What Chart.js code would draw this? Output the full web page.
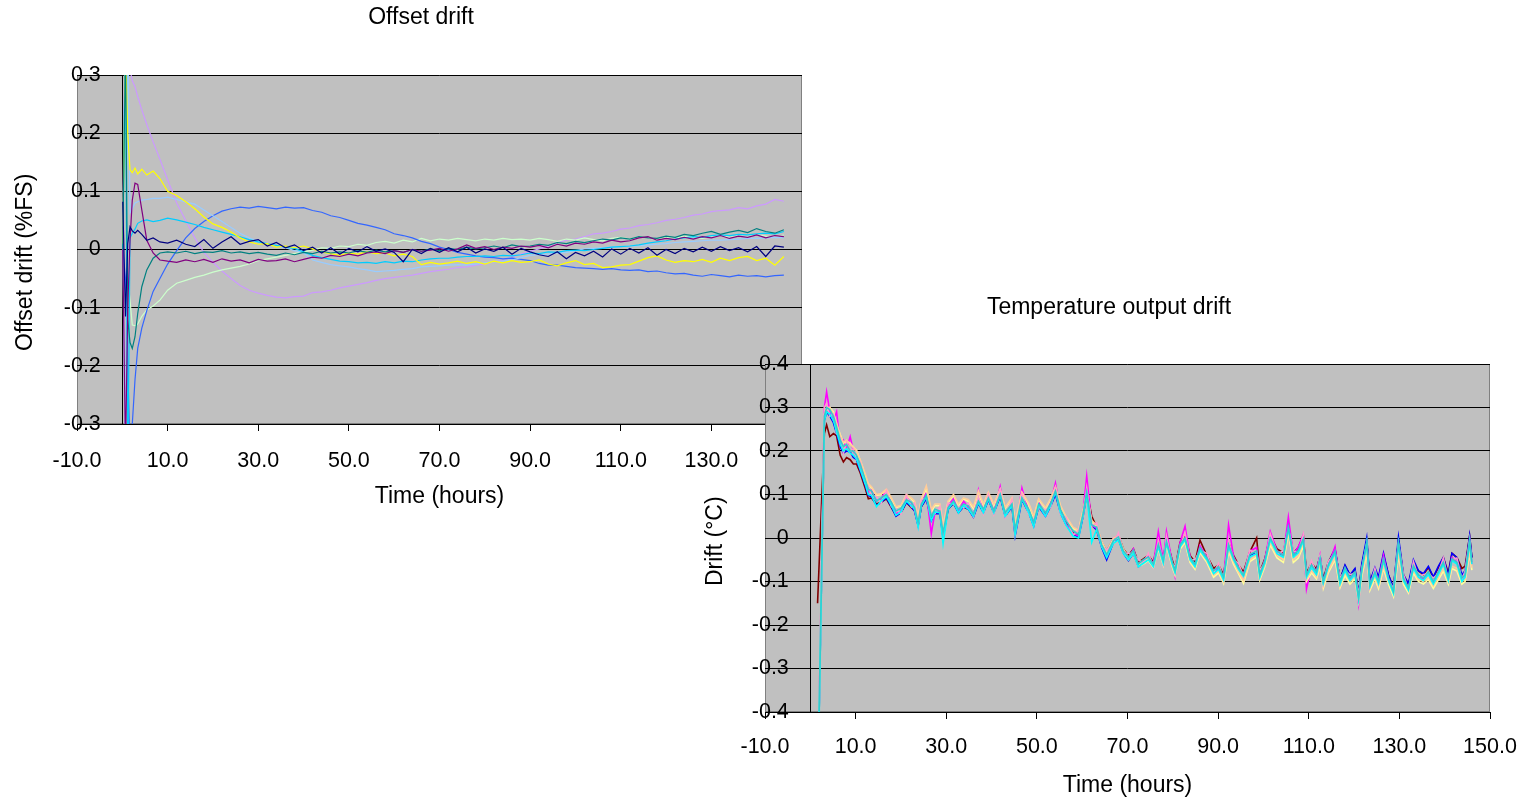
<!DOCTYPE html>
<html>
<head>
<meta charset="utf-8">
<title>Offset drift / Temperature output drift</title>
<script src="https://cdn.jsdelivr.net/npm/chart.js@4.4.1/dist/chart.umd.min.js"></script>
<style>
  html, body { margin: 0; padding: 0; background: #fff; }
  #page { position: relative; width: 1536px; height: 800px; overflow: hidden; }
  canvas { position: absolute; }
  #offsetChart { left: 0; top: 0; }
  #tempChart { left: 690px; top: 280px; }
</style>
</head>
<body>
<div id="page">
  <canvas id="offsetChart" width="842" height="520"></canvas>
  <canvas id="tempChart" width="838" height="520"></canvas>
</div>
<script>
// ---- Offset drift (%FS) ----
const offsetHours = [
  0.1, 0.7, 1.2, 1.7, 2.2, 2.8, 3.4, 4.3, 5.4, 6.8,
  8.3, 10, 12, 14, 16, 18, 20, 22, 24, 26,
  28, 30, 32, 34, 36, 38, 40, 42, 44, 46,
  48, 50, 52, 54, 56, 58, 60, 62, 64, 66,
  68, 70, 72, 74, 76, 78, 80, 82, 84, 86,
  88, 90, 92, 94, 96, 98, 100, 102, 104, 106,
  108, 110, 112, 114, 116, 118, 120, 122, 124, 126,
  128, 130, 132, 134, 136, 138, 140, 142, 144, 146
];
const offsetNavy = [
  0.082, -0.115, 0.01, 0.039, 0.032, 0.028, 0.033, 0.026, 0.016, 0.02,
  0.013, 0.011, 0.016, 0.009, 0.005, 0.017, 0.002, 0.013, 0.022, 0.009,
  0.014, 0.017, 0.006, 0.012, 0.003, 0.008, -0.002, 0.004, -0.006, 0.003,
  -0.008, 0.002, -0.004, 0.005, -0.003, 0.001, -0.005, -0.021, 0.0, -0.007,
  0.002, -0.005, 0.003, -0.004, 0.004, -0.006, 0.001, -0.003, 0.004, -0.008,
  0.002, -0.004, -0.009, -0.012, -0.004, -0.016, -0.005, -0.011, -0.003, -0.013,
  0.001, -0.008, 0.002, -0.006, 0.003, -0.01, 0.0, -0.007, 0.002, -0.004,
  0.004, -0.003, 0.005, -0.002, 0.003, -0.004, 0.005, -0.012, 0.006, 0.004
];
const offsetPurple = [
  0.0, -0.35, -0.1, 0.016, 0.085, 0.114, 0.112, 0.068, 0.016, -0.006,
  -0.018, -0.02, -0.022, -0.018, -0.021, -0.017, -0.022, -0.016, -0.02, -0.018,
  -0.023, -0.017, -0.02, -0.019, -0.016, -0.021, -0.017, -0.013, -0.015, -0.01,
  -0.012, -0.008, -0.011, -0.006, -0.004, -0.007, -0.002, -0.005, 0.0, -0.003,
  -0.001, 0.002, -0.003, 0.001, 0.008, 0.002, 0.005, 0.0, 0.004, 0.002,
  0.006, 0.004, 0.007, 0.003, 0.009, 0.006, 0.011, 0.009, 0.013, 0.011,
  0.016, 0.013, 0.015, 0.02, 0.022, 0.016, 0.019, 0.017, 0.021, 0.018,
  0.022, 0.02, 0.024, 0.019, 0.023, 0.021, 0.025, 0.02, 0.024, 0.022
];
const offsetTeal = [
  0.0, 0.35, -0.12, -0.16, -0.17, -0.15, -0.11, -0.064, -0.035, -0.015,
  -0.006, -0.004, -0.006, -0.003, -0.007, -0.004, -0.005, -0.002, -0.006, -0.004,
  -0.007, -0.005, -0.008, -0.01, -0.006, -0.009, -0.005, -0.007, -0.003, -0.006,
  -0.004, -0.006, -0.002, -0.005, -0.001, -0.004, -0.002, -0.005, 0.0, -0.003,
  0.001, -0.002, 0.002, 0.0, 0.004, 0.001, 0.003, 0.006, 0.003, 0.008,
  0.005, 0.006, 0.009, 0.007, 0.012, 0.01, 0.014, 0.012, 0.015, 0.018,
  0.016, 0.02, 0.018, 0.022, 0.02, 0.019, 0.023, 0.021, 0.026, 0.024,
  0.028, 0.031, 0.026, 0.03, 0.033, 0.029, 0.036, 0.031, 0.028, 0.034
];
const offsetYellow = [
  0.01, 0.35, 0.2, 0.137, 0.132, 0.14, 0.13, 0.138, 0.128, 0.135,
  0.122, 0.1, 0.093, 0.082, 0.07, 0.056, 0.044, 0.038, 0.03, 0.02,
  0.013, 0.009, 0.01, 0.004, 0.006, 0.003, 0.006, 0.001, -0.004, -0.007,
  -0.01, -0.006, -0.008, -0.004, -0.007, -0.006, -0.011, -0.008, -0.012, -0.026,
  -0.022, -0.025, -0.023, -0.02, -0.024, -0.021, -0.025, -0.02, -0.023, -0.019,
  -0.022, -0.021, -0.018, -0.025, -0.028, -0.023, -0.019, -0.026, -0.024, -0.031,
  -0.03, -0.027, -0.026, -0.02, -0.014, -0.011, -0.018, -0.022, -0.019, -0.021,
  -0.017, -0.022, -0.015, -0.019, -0.014, -0.012, -0.019, -0.015, -0.027, -0.012
];
const offsetCyan = [
  0.0, 0.4, -0.4, 0.02, 0.028, 0.035, 0.045, 0.049, 0.051, 0.048,
  0.05, 0.054, 0.051, 0.047, 0.043, 0.038, 0.034, 0.03, 0.026, 0.022,
  0.017, 0.013, 0.01, 0.007, 0.004, 0.002, -0.004, -0.01, -0.014, -0.017,
  -0.02, -0.021, -0.023, -0.022, -0.024, -0.021, -0.023, -0.02, -0.021, -0.018,
  -0.016, -0.015, -0.015, -0.013, -0.012, -0.012, -0.011, -0.012, -0.01, -0.011,
  -0.009, -0.006, -0.007, -0.004, -0.005, -0.002, -0.001, -0.002, 0.0, 0.002,
  0.004, 0.005, 0.006, 0.008, 0.011, 0.013, 0.015, 0.018, 0.02, 0.022,
  0.021, 0.024, 0.025, 0.024, 0.026, 0.025, 0.027, 0.028, 0.027, 0.031
];
const offsetLightBlue = [
  0.0, -0.4, 0.4, 0.063, 0.07, 0.08, 0.082, 0.085, 0.086, 0.088,
  0.088, 0.09, 0.086, 0.082, 0.078, 0.068, 0.058, 0.048, 0.038, 0.028,
  0.02, 0.014, 0.01, 0.005, 0.003, -0.002, -0.006, -0.018, -0.022, -0.026,
  -0.028, -0.03, -0.033, -0.035, -0.038, -0.037, -0.036, -0.034, -0.033, -0.03,
  -0.029, -0.028, -0.027, -0.026, -0.027, -0.025, -0.023, -0.021, -0.02, -0.018,
  -0.014, -0.01, -0.009, -0.008, -0.006, -0.005, -0.002, 0.001, 0.002, 0.003,
  0.004, 0.005, 0.006, 0.006, 0.008, 0.009, 0.01, 0.012, 0.013, 0.014,
  0.015, 0.016, 0.016, 0.017, 0.018, 0.019, 0.019, 0.02, 0.021, 0.02
];
const offsetBlue = [
  0.0, -0.05, -0.2, -0.35, -0.3, -0.224, -0.17, -0.135, -0.105, -0.072,
  -0.05, -0.025, -0.002, 0.02, 0.036, 0.048, 0.058, 0.066, 0.07, 0.073,
  0.071, 0.074, 0.072, 0.07, 0.073, 0.071, 0.072, 0.067, 0.064, 0.058,
  0.055, 0.05, 0.045, 0.042, 0.038, 0.034, 0.027, 0.024, 0.02, 0.014,
  0.01, 0.004, 0.0, -0.005, -0.008, -0.011, -0.013, -0.014, -0.016, -0.015,
  -0.017, -0.019, -0.024, -0.027, -0.027, -0.029, -0.031, -0.032, -0.033, -0.034,
  -0.033, -0.035, -0.036, -0.035, -0.038, -0.037, -0.04, -0.042, -0.041, -0.044,
  -0.046, -0.043, -0.045, -0.047, -0.044, -0.046, -0.045, -0.047, -0.045, -0.044
];
const offsetLightGreen = [
  0.0, 0.3, -0.05, -0.087, -0.13, -0.131, -0.128, -0.115, -0.104, -0.097,
  -0.087, -0.07, -0.058, -0.053, -0.048, -0.044, -0.039, -0.035, -0.032, -0.029,
  -0.025, -0.019, -0.016, -0.013, -0.01, -0.007, -0.004, -0.001, 0.003, 0.002,
  0.006, 0.005, 0.009, 0.007, 0.012, 0.014, 0.011, 0.016, 0.013, 0.019,
  0.015, 0.018, 0.016, 0.019, 0.017, 0.015, 0.018, 0.016, 0.019, 0.017,
  0.018, 0.016, 0.019, 0.017, 0.014, 0.018, 0.016, 0.02, 0.017, 0.015,
  0.019, 0.021, 0.018, 0.022, 0.02, 0.017, 0.021, 0.019, 0.023, 0.021,
  0.019, 0.022, 0.025, 0.021, 0.024, 0.022, 0.026, 0.023, 0.021, 0.025
];
const offsetLavender = [
  0.04, 0.45, 0.4, 0.31, 0.29, 0.28, 0.263, 0.24, 0.215, 0.185,
  0.155, 0.12, 0.08, 0.05, 0.02, -0.005, -0.022, -0.037, -0.05, -0.062,
  -0.07, -0.075, -0.079, -0.082, -0.083, -0.081, -0.08, -0.074, -0.073, -0.07,
  -0.066, -0.063, -0.06, -0.057, -0.053, -0.05, -0.048, -0.046, -0.044, -0.041,
  -0.038, -0.036, -0.034, -0.031, -0.03, -0.027, -0.025, -0.021, -0.018, -0.013,
  -0.008, -0.003, 0.001, 0.006, 0.012, 0.016, 0.018, 0.022, 0.027, 0.028,
  0.031, 0.035, 0.037, 0.041, 0.043, 0.046, 0.05, 0.052, 0.055, 0.059,
  0.061, 0.065, 0.067, 0.068, 0.072, 0.07, 0.075, 0.078, 0.086, 0.083
];

// ---- Temperature output drift (°C) ----
const tempHours = [
  1.6, 3.1, 3.6, 4.3, 5.1, 5.8, 6.6, 7.3, 8.0, 8.8,
  9.5, 10.2, 11.0, 12.1, 12.8, 13.5, 14.6, 15.6, 16.8, 17.9,
  18.9, 20.0, 21.2, 22.3, 23.0, 23.8, 24.5, 25.6, 26.7, 27.5,
  28.6, 29.3, 30.4, 31.6, 32.7, 33.8, 34.9, 36.0, 37.1, 38.2,
  39.3, 40.5, 41.9, 43.0, 44.5, 45.2, 46.7, 48.2, 49.3, 50.4,
  51.9, 53.0, 54.1, 55.2, 56.4, 58.0, 59.2, 60.2, 61.0, 62.1,
  63.2, 64.3, 65.4, 66.9, 68.0, 69.1, 70.2, 71.3, 72.4, 73.5,
  74.6, 75.7, 76.8, 77.9, 78.6, 79.8, 80.5, 81.6, 82.7, 83.8,
  84.9, 86.0, 87.5, 89.0, 90.1, 91.2, 92.3, 93.4, 94.5, 95.6,
  97.0, 98.5, 99.2, 100.3, 101.5, 103.0, 104.4, 105.5, 106.6, 107.7,
  108.8, 109.5, 110.6, 111.7, 112.5, 113.2, 114.3, 115.8, 116.9, 118.0,
  119.1, 120.2, 121.0, 121.7, 122.8, 123.5, 124.6, 125.4, 126.5, 127.6,
  128.7, 129.8, 130.9, 132.0, 133.1, 134.2, 135.3, 136.4, 137.5, 138.6,
  139.7, 140.8, 141.6, 142.7, 143.8, 144.5, 145.5, 146.0
];
const tempTurquoise = [
  -0.6, 0.28, 0.3, 0.295, 0.28, 0.255, 0.225, 0.21, 0.215, 0.2,
  0.2, 0.19, 0.17, 0.135, 0.112, 0.108, 0.085, 0.092, 0.1, 0.082,
  0.062, 0.068, 0.088, 0.082, 0.07, 0.036, 0.078, 0.098, 0.05, 0.066,
  0.062, 0.012, 0.07, 0.085, 0.066, 0.078, 0.074, 0.055, 0.085, 0.066,
  0.092, 0.062, 0.1, 0.058, 0.078, 0.02, 0.092, 0.066, 0.036, 0.078,
  0.058, 0.078, 0.108, 0.066, 0.04, 0.016, 0.008, 0.056, 0.105, 0.03,
  0.025, -0.015, -0.038, -0.006, 0.002, -0.03, -0.044, -0.028, -0.06, -0.05,
  -0.044, -0.06, -0.015, -0.052, -0.008, -0.052, -0.075, -0.015, 0.0, -0.045,
  -0.06, -0.022, -0.045, -0.075, -0.066, -0.09, -0.015, -0.045, -0.068, -0.085,
  -0.038, -0.03, -0.084, -0.052, 0.0, -0.03, -0.04, 0.025, -0.04, -0.028,
  -0.002, -0.085, -0.062, -0.078, -0.046, -0.1, -0.062, -0.03, -0.1, -0.068,
  -0.092, -0.078, -0.138, -0.07, -0.01, -0.108, -0.078, -0.1, -0.048, -0.092,
  -0.123, -0.01, -0.092, -0.115, -0.064, -0.085, -0.092, -0.078, -0.1, -0.078,
  -0.056, -0.092, -0.048, -0.056, -0.092, -0.085, -0.005, -0.056
];
const tempCyan = [
  -0.62, 0.27, 0.29, 0.285, 0.27, 0.245, 0.215, 0.2, 0.205, 0.195,
  0.19, 0.182, 0.158, 0.125, 0.1, 0.098, 0.072, 0.085, 0.095, 0.075,
  0.052, 0.06, 0.085, 0.074, 0.066, 0.025, 0.074, 0.095, 0.04, 0.06,
  0.058, -0.013, 0.066, 0.082, 0.058, 0.075, 0.066, 0.05, 0.082, 0.058,
  0.09, 0.058, 0.098, 0.05, 0.074, 0.008, 0.09, 0.058, 0.026, 0.075,
  0.05, 0.074, 0.105, 0.058, 0.03, 0.004, 0.0, 0.052, 0.1, -0.01,
  0.02, -0.02, -0.045, -0.012, -0.004, -0.036, -0.05, -0.035, -0.066, -0.058,
  -0.05, -0.066, -0.02, -0.058, -0.012, -0.058, -0.08, -0.02, -0.004, -0.05,
  -0.066, -0.028, -0.05, -0.082, -0.072, -0.096, -0.02, -0.05, -0.072, -0.088,
  -0.044, -0.036, -0.09, -0.058, -0.004, -0.036, -0.044, 0.022, -0.044, -0.034,
  -0.006, -0.09, -0.068, -0.084, -0.05, -0.104, -0.066, -0.034, -0.106, -0.075,
  -0.098, -0.084, -0.142, -0.076, -0.012, -0.112, -0.084, -0.105, -0.052, -0.098,
  -0.128, -0.015, -0.098, -0.12, -0.07, -0.09, -0.098, -0.084, -0.106, -0.084,
  -0.06, -0.098, -0.052, -0.06, -0.1, -0.09, -0.012, -0.06
];
const tempPink = [
  -0.6, 0.3, 0.31, 0.28, 0.285, 0.24, 0.23, 0.195, 0.22, 0.2,
  0.205, 0.18, 0.175, 0.125, 0.12, 0.098, 0.095, 0.08, 0.108, 0.072,
  0.068, 0.055, 0.098, 0.072, 0.08, 0.028, 0.088, 0.092, 0.058, 0.056,
  0.072, 0.004, 0.08, 0.078, 0.072, 0.07, 0.08, 0.05, 0.095, 0.056,
  0.1, 0.055, 0.11, 0.048, 0.088, 0.01, 0.1, 0.055, 0.042, 0.07,
  0.065, 0.07, 0.115, 0.055, 0.048, 0.006, 0.018, 0.05, 0.115, 0.028,
  0.035, -0.02, -0.028, -0.012, 0.012, -0.035, -0.035, -0.035, -0.05, -0.058,
  -0.035, -0.066, -0.005, -0.058, 0.004, -0.058, -0.066, -0.02, 0.012, -0.05,
  -0.05, -0.028, -0.035, -0.08, -0.058, -0.095, -0.005, -0.05, -0.058, -0.088,
  -0.028, -0.035, -0.074, -0.058, 0.01, -0.036, -0.03, 0.022, -0.03, -0.033,
  0.008, -0.09, -0.052, -0.082, -0.038, -0.105, -0.054, -0.035, -0.092, -0.075,
  -0.084, -0.082, -0.13, -0.074, -0.012, -0.112, -0.07, -0.105, -0.052, -0.098,
  -0.115, -0.012, -0.084, -0.12, -0.054, -0.09, -0.084, -0.082, -0.092, -0.082,
  -0.046, -0.098, -0.05, -0.046, -0.096, -0.076, -0.004, -0.058
];
const tempPeach = [
  -0.58, 0.28, 0.295, 0.3, 0.285, 0.265, 0.235, 0.22, 0.225, 0.215,
  0.21, 0.2, 0.18, 0.148, 0.125, 0.118, 0.1, 0.102, 0.112, 0.092,
  0.072, 0.075, 0.1, 0.092, 0.085, 0.05, 0.09, 0.12, 0.065, 0.078,
  0.078, 0.03, 0.085, 0.1, 0.078, 0.092, 0.088, 0.072, 0.108, 0.078,
  0.105, 0.078, 0.112, 0.07, 0.092, 0.035, 0.105, 0.08, 0.05, 0.09,
  0.07, 0.09, 0.118, 0.075, 0.05, 0.025, 0.018, 0.065, 0.105, 0.04,
  0.03, -0.008, -0.03, 0.0, 0.006, -0.025, -0.045, -0.03, -0.062, -0.055,
  -0.048, -0.065, -0.02, -0.058, -0.012, -0.06, -0.082, -0.022, -0.006, -0.052,
  -0.068, -0.03, -0.052, -0.085, -0.075, -0.1, -0.025, -0.055, -0.078, -0.098,
  -0.05, -0.04, -0.092, -0.062, -0.01, -0.04, -0.05, 0.015, -0.05, -0.04,
  -0.012, -0.095, -0.075, -0.09, -0.06, -0.11, -0.075, -0.045, -0.11, -0.08,
  -0.1, -0.088, -0.14, -0.082, -0.03, -0.115, -0.088, -0.11, -0.065, -0.1,
  -0.128, -0.035, -0.1, -0.12, -0.075, -0.095, -0.1, -0.09, -0.11, -0.09,
  -0.07, -0.1, -0.065, -0.07, -0.1, -0.095, -0.03, -0.068
];
const tempLightYellow = [
  -0.6, 0.285, 0.3, 0.3, 0.29, 0.26, 0.238, 0.218, 0.222, 0.218,
  0.208, 0.202, 0.178, 0.145, 0.122, 0.116, 0.098, 0.1, 0.11, 0.09,
  0.07, 0.074, 0.098, 0.09, 0.082, 0.046, 0.088, 0.112, 0.06, 0.075,
  0.074, 0.024, 0.082, 0.098, 0.075, 0.09, 0.084, 0.068, 0.1, 0.075,
  0.104, 0.075, 0.11, 0.068, 0.09, 0.03, 0.104, 0.076, 0.046, 0.088,
  0.068, 0.088, 0.115, 0.072, 0.048, 0.022, 0.016, 0.062, 0.1, 0.036,
  0.026, -0.012, -0.036, -0.004, 0.0, -0.03, -0.05, -0.034, -0.066, -0.06,
  -0.052, -0.068, -0.024, -0.062, -0.016, -0.064, -0.086, -0.026, -0.01, -0.056,
  -0.072, -0.034, -0.056, -0.09, -0.08, -0.104, -0.03, -0.06, -0.082, -0.104,
  -0.054, -0.044, -0.096, -0.066, -0.016, -0.046, -0.056, 0.01, -0.056, -0.046,
  -0.018, -0.1, -0.08, -0.094, -0.066, -0.116, -0.08, -0.05, -0.114, -0.086,
  -0.106, -0.094, -0.146, -0.088, -0.036, -0.12, -0.094, -0.116, -0.07, -0.106,
  -0.134, -0.04, -0.106, -0.126, -0.08, -0.1, -0.106, -0.096, -0.116, -0.096,
  -0.076, -0.106, -0.07, -0.076, -0.106, -0.1, -0.036, -0.074
];
const tempMagenta = [
  -0.6, 0.3, 0.336, 0.29, 0.27, 0.29, 0.215, 0.225, 0.205, 0.233,
  0.2, 0.185, 0.16, 0.13, 0.105, 0.11, 0.085, 0.09, 0.11, 0.078,
  0.055, 0.062, 0.095, 0.078, 0.065, 0.03, 0.082, 0.105, 0.01, 0.06,
  0.06, 0.005, 0.074, 0.09, 0.06, 0.085, 0.07, 0.05, 0.11, 0.06,
  0.1, 0.06, 0.118, 0.05, 0.08, 0.012, 0.115, 0.06, 0.028, 0.082,
  0.05, 0.08, 0.126, 0.06, 0.032, 0.01, 0.005, 0.06, 0.142, 0.03,
  0.022, -0.018, -0.04, 0.0, 0.005, -0.03, -0.048, -0.025, -0.062, -0.052,
  -0.04, -0.06, 0.015, -0.052, 0.015, -0.052, -0.088, -0.01, 0.027, -0.044,
  -0.062, -0.018, -0.044, -0.078, -0.068, -0.092, 0.03, -0.042, -0.068, -0.085,
  -0.03, -0.022, -0.085, -0.05, 0.015, -0.03, -0.04, 0.048, -0.038, -0.02,
  0.008, -0.117, -0.065, -0.08, -0.04, -0.11, -0.065, -0.02, -0.105, -0.07,
  -0.095, -0.08, -0.15, -0.07, -0.015, -0.11, -0.08, -0.1, -0.04, -0.095,
  -0.125, -0.02, -0.095, -0.118, -0.06, -0.088, -0.095, -0.08, -0.105, -0.078,
  -0.05, -0.098, -0.045, -0.055, -0.1, -0.088, -0.01, -0.06
];
const tempBlue = [
  -0.6, 0.27, 0.29, 0.28, 0.265, 0.24, 0.21, 0.195, 0.2, 0.198,
  0.185, 0.18, 0.155, 0.122, 0.098, 0.095, 0.075, 0.082, 0.092, 0.072,
  0.05, 0.058, 0.082, 0.072, 0.062, 0.028, 0.072, 0.09, 0.04, 0.056,
  0.056, 0.0, 0.066, 0.08, 0.058, 0.072, 0.066, 0.048, 0.08, 0.058,
  0.088, 0.058, 0.095, 0.05, 0.072, 0.005, 0.088, 0.058, 0.028, 0.072,
  0.05, 0.072, 0.1, 0.058, 0.032, 0.008, 0.002, 0.05, 0.1, 0.03,
  0.018, -0.022, -0.05, -0.01, -0.002, -0.035, -0.052, -0.035, -0.066, -0.058,
  -0.05, -0.065, -0.018, -0.058, -0.01, -0.056, -0.08, -0.018, -0.002, -0.048,
  -0.064, -0.026, -0.048, -0.08, -0.07, -0.094, -0.018, -0.048, -0.07, -0.086,
  -0.04, -0.032, -0.086, -0.055, -0.002, -0.032, -0.04, 0.02, -0.04, -0.03,
  0.0, -0.085, -0.062, -0.076, -0.04, -0.1, -0.058, -0.025, -0.096, -0.062,
  -0.085, -0.07, -0.13, -0.06, 0.0, -0.1, -0.068, -0.09, -0.035, -0.085,
  -0.115, 0.002, -0.085, -0.105, -0.05, -0.075, -0.082, -0.065, -0.09, -0.065,
  -0.045, -0.085, -0.035, -0.045, -0.085, -0.075, 0.005, -0.045
];
const tempMaroon = [
  -0.15, 0.24, 0.26, 0.233, 0.24, 0.235, 0.19, 0.175, 0.185, 0.18,
  0.17, 0.17, 0.15, 0.115, 0.09, 0.092, 0.078, 0.082, 0.09, 0.07,
  0.052, 0.058, 0.082, 0.07, 0.064, 0.03, 0.072, 0.092, 0.042, 0.058,
  0.058, 0.008, 0.066, 0.08, 0.06, 0.072, 0.066, 0.052, 0.082, 0.06,
  0.09, 0.06, 0.098, 0.052, 0.075, 0.015, 0.09, 0.062, 0.032, 0.076,
  0.054, 0.076, 0.105, 0.062, 0.038, 0.012, 0.008, 0.058, 0.11, 0.05,
  0.025, -0.01, -0.03, -0.002, 0.006, -0.025, -0.04, -0.025, -0.056, -0.048,
  -0.04, -0.055, -0.01, -0.048, -0.002, -0.048, -0.07, -0.01, 0.006, -0.04,
  -0.055, -0.005, -0.04, -0.07, -0.062, -0.085, -0.01, -0.04, -0.062, -0.078,
  -0.032, 0.0, -0.078, -0.048, 0.005, -0.025, -0.034, 0.028, -0.034, -0.022,
  0.005, -0.08, -0.058, -0.072, -0.042, -0.095, -0.056, -0.026, -0.095, -0.064,
  -0.086, -0.072, -0.13, -0.064, -0.008, -0.1, -0.072, -0.094, -0.04, -0.085,
  -0.115, -0.008, -0.085, -0.108, -0.056, -0.076, -0.084, -0.068, -0.09, -0.068,
  -0.045, -0.08, -0.035, -0.045, -0.07, -0.065, 0.004, -0.045
];

Chart.defaults.font.family = "'Liberation Sans', Arial, sans-serif";
Chart.defaults.color = '#000';

// grey Excel-style plot area with a thin grey frame
const plotBackground = {
  id: 'plotBackground',
  beforeDraw(chart) {
    const { ctx, chartArea: a } = chart;
    ctx.save();
    ctx.fillStyle = '#c0c0c0';
    ctx.fillRect(a.left, a.top, a.width, a.height);
    ctx.strokeStyle = '#808080';
    ctx.lineWidth = 1;
    ctx.strokeRect(a.left + 0.5, a.top + 0.5, a.width - 1, a.height - 1);
    ctx.restore();
  }
};

// y labels sit left of the axis line drawn at x = 0; two en spaces keep the gap
function fmtY(v) {
  const r = Math.round(v * 10) / 10;
  return (r === 0 ? '0' : String(r)) + '\u2002\u2002';
}

function buildChart(id, cfg) {
  const datasets = cfg.series.map(([label, values, color]) => ({
    label,
    data: cfg.hours.map((h, i) => ({ x: h, y: values[i] })),
    borderColor: color,
    borderWidth: cfg.lineWidth,
    pointRadius: 0,
    tension: 0,
    fill: false
  }));

  return new Chart(document.getElementById(id), {
    type: 'line',
    data: { datasets },
    options: {
      responsive: false,
      animation: false,
      events: [],
      layout: { padding: 0 },
      plugins: {
        legend: { display: false },
        tooltip: { enabled: false },
        title: {
          display: true,
          text: cfg.title,
          color: '#000',
          font: { size: 23, weight: 'normal' },
          padding: { top: cfg.titleTop, bottom: cfg.titleBottom }
        }
      },
      scales: {
        x: {
          type: 'linear',
          position: 'bottom',
          min: -10,
          max: 150,
          ticks: {
            stepSize: 20,
            padding: cfg.xTickPad,
            font: { size: 21.5, lineHeight: 2 },
            color: '#000',
            maxRotation: 0,
            autoSkip: false,
            callback: v => v.toFixed(1)
          },
          grid: { drawOnChartArea: false, drawTicks: true, tickLength: 7, color: '#000' },
          border: { display: true, color: '#000' },
          title: {
            display: true,
            text: 'Time (hours)',
            font: { size: 23 },
            color: '#000',
            padding: { top: 0, bottom: cfg.xTitleBottom }
          },
          afterFit: s => { s.height = cfg.xAxisHeight; }
        },
        y: {
          type: 'linear',
          position: { x: 0 },
          min: cfg.yMin,
          max: cfg.yMax,
          ticks: { stepSize: 0.1, font: { size: 21.5 }, color: '#000', callback: fmtY },
          grid: { color: '#000', lineWidth: 1, drawTicks: true, tickLength: 7 },
          border: { display: true, color: '#000' }
        },
        yTitle: {
          type: 'linear',
          position: 'left',
          min: 0,
          max: 1,
          ticks: { display: false },
          grid: { display: false },
          border: { display: false },
          title: {
            display: true,
            text: cfg.yTitle,
            font: { size: 23 },
            color: '#000',
            padding: { top: cfg.yTitleLeft, bottom: 0 }
          },
          afterFit: s => { s.width = cfg.leftWidth; }
        },
        yGap: {
          type: 'linear',
          position: 'right',
          min: 0,
          max: 1,
          ticks: { display: false },
          grid: { display: false },
          border: { display: false },
          afterFit: s => { s.width = cfg.rightWidth; }
        }
      }
    },
    plugins: [plotBackground]
  });
}

buildChart('offsetChart', {
  title: 'Offset drift',
  titleTop: 4.2,
  titleBottom: 43.2,
  yTitle: 'Offset drift (%FS)    ',
  yTitleLeft: 12.2,
  yMin: -0.3,
  yMax: 0.3,
  leftWidth: 77,
  rightWidth: 40,
  xAxisHeight: 96,
  xTickPad: 8.5,
  xTitleBottom: 9.2,
  lineWidth: 1.2,
  hours: offsetHours,
  series: [
    ['Navy', offsetNavy, '#000080'],
    ['Purple', offsetPurple, '#800080'],
    ['Teal', offsetTeal, '#008080'],
    ['Yellow', offsetYellow, '#ffff00'],
    ['Cyan', offsetCyan, '#00ccff'],
    ['Light blue', offsetLightBlue, '#99ccff'],
    ['Blue', offsetBlue, '#3366ff'],
    ['Light green', offsetLightGreen, '#ccffcc'],
    ['Lavender', offsetLavender, '#cc99ff']
  ]
});

buildChart('tempChart', {
  title: 'Temperature output drift',
  titleTop: 14.2,
  titleBottom: 42.2,
  yTitle: 'Drift (°C) ',
  yTitleLeft: 12.2,
  yMin: -0.4,
  yMax: 0.4,
  leftWidth: 75,
  rightWidth: 38,
  xAxisHeight: 88,
  xTickPad: 6.5,
  xTitleBottom: 0.2,
  lineWidth: 1.6,
  hours: tempHours,
  series: [
    ['Turquoise', tempTurquoise, '#33cccc'],
    ['Cyan', tempCyan, '#00ffff'],
    ['Pink', tempPink, '#ff99cc'],
    ['Peach', tempPeach, '#ffcc99'],
    ['Light yellow', tempLightYellow, '#ffff99'],
    ['Magenta', tempMagenta, '#ff00ff'],
    ['Blue', tempBlue, '#0000ff'],
    ['Maroon', tempMaroon, '#800000']
  ]
});
</script>
</body>
</html>
